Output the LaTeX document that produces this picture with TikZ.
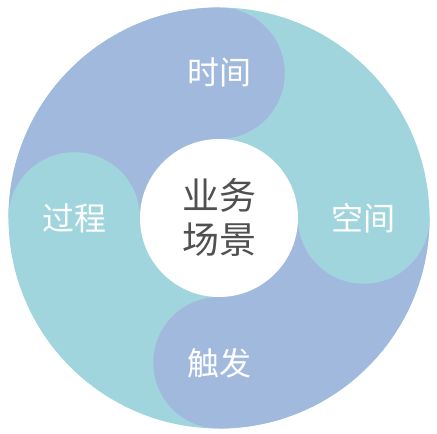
\documentclass[tikz,border=0pt]{standalone}
\usepackage{fontspec}
\usetikzlibrary{calc}
\newfontfamily\cjk{Noto Sans CJK SC}
\definecolor{blu}{RGB}{162,185,222}
\definecolor{tea}{RGB}{161,213,222}
\definecolor{txt}{RGB}{80,80,80}
\begin{document}
\begin{tikzpicture}[x=1pt,y=1pt,
  lbl/.style={text=white,font=\cjk\fontsize{32}{36}\selectfont,inner sep=0pt},
  ctr/.style={text=txt,align=center,font=\cjk\fontsize{37}{44}\selectfont,inner sep=0pt}]
\useasboundingbox (0,0) rectangle (437,434);
\def\R{210.5}
\def\r{65.75}
\def\d{144.75}
\coordinate (O) at (219,216);
\fill[tea] (O) circle[radius=\R];
\fill[blu] (O) -- ++(90:\R) arc[start angle=90,end angle=180,radius=\R] -- cycle;
\fill[blu] (O) -- ++(270:\R) arc[start angle=270,end angle=360,radius=\R] -- cycle;
\fill[blu] ($(O)+(90:\d)$) circle[radius=\r];
\fill[blu] ($(O)+(270:\d)$) circle[radius=\r];
\fill[tea] ($(O)+(0:\d)$) circle[radius=\r];
\fill[tea] ($(O)+(180:\d)$) circle[radius=\r];
\fill[white] (O) circle[radius=79];
\node[ctr] (c) at (219,217) {业务\\场景};
\node[lbl] (t) at (219,362) {时间};
\node[lbl] (s) at (363,216) {空间};
\node[lbl] (f) at (219,71) {触发};
\node[lbl] (p) at (74,216) {过程};
\end{tikzpicture}
\end{document}
